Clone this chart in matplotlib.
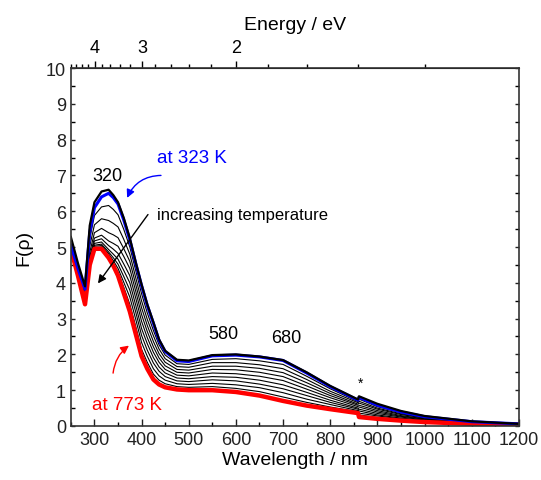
import numpy as np
import matplotlib.pyplot as plt
from matplotlib.ticker import MultipleLocator, FixedLocator

plt.rcParams['font.family'] = ['Liberation Sans', 'DejaVu Sans']

# wavelength grid (nm)
wl = [250, 265, 280, 290, 300, 315, 330, 340, 350, 362, 375, 388, 400, 412, 425, 437,
      450, 475, 500, 550, 600, 650, 700, 750, 800, 859, 861, 900, 950, 1000, 1100, 1200]

# first (room temperature) spectrum, thick black
f_rt = [5.28, 4.55, 3.90, 5.60, 6.25, 6.55, 6.60, 6.45, 6.25, 5.82, 5.25, 4.55, 3.95, 3.40, 2.90, 2.42,
        2.10, 1.85, 1.83, 1.98, 2.00, 1.94, 1.84, 1.50, 1.12, 0.74, 0.83, 0.62, 0.42, 0.28, 0.13, 0.06]
# 323 K, blue
f_323 = [5.05, 4.40, 3.82, 5.40, 6.10, 6.40, 6.50, 6.38, 6.20, 5.76, 5.20, 4.52, 3.92, 3.37, 2.87, 2.39,
         2.08, 1.82, 1.80, 1.96, 1.98, 1.93, 1.83, 1.48, 1.10, 0.72, 0.80, 0.58, 0.39, 0.26, 0.12, 0.06]
# intermediate temperatures
mid1 = [5.03, 4.36, 3.74, 5.23, 5.88, 6.12, 6.16, 6.05, 5.90, 5.50, 5.00, 4.32, 3.69, 3.16, 2.67, 2.27,
        1.98, 1.74, 1.72, 1.86, 1.88, 1.82, 1.72, 1.39, 1.04, 0.68, 0.75, 0.54, 0.37, 0.25, 0.11, 0.058]
mid2 = [5.01, 4.32, 3.64, 5.02, 5.62, 5.79, 5.74, 5.66, 5.56, 5.22, 4.80, 4.12, 3.49, 2.98, 2.52, 2.15,
        1.88, 1.66, 1.64, 1.77, 1.77, 1.71, 1.60, 1.30, 0.97, 0.65, 0.69, 0.50, 0.34, 0.23, 0.11, 0.056]
mid3 = [4.99, 4.28, 3.56, 4.85, 5.40, 5.52, 5.40, 5.34, 5.26, 4.96, 4.60, 3.93, 3.30, 2.81, 2.36, 2.02,
        1.78, 1.58, 1.56, 1.67, 1.67, 1.61, 1.49, 1.21, 0.91, 0.61, 0.64, 0.47, 0.32, 0.22, 0.10, 0.054]
mid4 = [4.98, 4.25, 3.51, 4.73, 5.25, 5.33, 5.17, 5.10, 5.02, 4.74, 4.40, 3.74, 3.11, 2.64, 2.21, 1.90,
        1.68, 1.50, 1.48, 1.58, 1.57, 1.50, 1.38, 1.12, 0.85, 0.58, 0.58, 0.43, 0.29, 0.20, 0.10, 0.052]
mid5 = [4.97, 4.24, 3.48, 4.67, 5.17, 5.23, 5.04, 4.94, 4.82, 4.53, 4.20, 3.55, 2.92, 2.47, 2.06, 1.78,
        1.58, 1.42, 1.40, 1.48, 1.46, 1.39, 1.27, 1.03, 0.79, 0.54, 0.53, 0.39, 0.27, 0.19, 0.09, 0.050]
mid6 = [4.97, 4.23, 3.45, 4.62, 5.10, 5.14, 4.93, 4.80, 4.66, 4.35, 4.00, 3.35, 2.72, 2.30, 1.91, 1.65,
        1.48, 1.34, 1.32, 1.38, 1.36, 1.28, 1.15, 0.94, 0.72, 0.50, 0.47, 0.35, 0.25, 0.17, 0.08, 0.048]
mid7 = [4.96, 4.22, 3.44, 4.58, 5.05, 5.08, 4.86, 4.70, 4.52, 4.18, 3.80, 3.16, 2.53, 2.12, 1.76, 1.53,
        1.38, 1.26, 1.24, 1.29, 1.26, 1.17, 1.04, 0.85, 0.66, 0.47, 0.42, 0.31, 0.22, 0.16, 0.08, 0.046]
mid8 = [4.96, 4.21, 3.43, 4.55, 5.02, 5.04, 4.81, 4.62, 4.40, 4.02, 3.60, 2.96, 2.33, 1.95, 1.60, 1.40,
        1.28, 1.18, 1.16, 1.19, 1.15, 1.07, 0.93, 0.75, 0.60, 0.43, 0.36, 0.28, 0.20, 0.14, 0.07, 0.044]
mid9 = [4.95, 4.21, 3.41, 4.53, 4.98, 5.00, 4.75, 4.53, 4.30, 3.88, 3.40, 2.76, 2.14, 1.78, 1.45, 1.28,
        1.18, 1.10, 1.08, 1.10, 1.05, 0.96, 0.81, 0.66, 0.53, 0.40, 0.31, 0.24, 0.17, 0.13, 0.07, 0.042]
# 773 K, red
f_773 = [4.95, 4.20, 3.40, 4.50, 4.95, 4.95, 4.70, 4.48, 4.20, 3.72, 3.20, 2.55, 1.95, 1.60, 1.30, 1.16,
         1.08, 1.02, 1.00, 1.00, 0.95, 0.85, 0.70, 0.57, 0.47, 0.36, 0.25, 0.20, 0.15, 0.11, 0.06, 0.04]

mids = [mid1, mid2, mid3, mid4, mid5, mid6, mid7, mid8, mid9]

C_EV = 1202.0  # nm*eV used for top axis

fig = plt.figure(figsize=(5.41, 4.81), dpi=100)
ax = fig.add_axes([0.131, 0.1123, 0.828, 0.7442])

for m in mids:
    ax.plot(wl, m, color='black', lw=0.8)
ax.plot(wl, f_773, color='red', lw=3.2, solid_joinstyle='round')
ax.plot(wl, f_323, color='blue', lw=2.2)
ax.plot(wl, f_rt, color='black', lw=1.6)

ax.set_xlim(250, 1200)
ax.set_ylim(0, 10)
ax.xaxis.set_major_locator(MultipleLocator(100))
ax.xaxis.set_minor_locator(MultipleLocator(50))
ax.yaxis.set_major_locator(MultipleLocator(1))
ax.yaxis.set_minor_locator(MultipleLocator(0.5))
ax.set_xticks(np.arange(300, 1201, 100))
ax.tick_params(axis='both', which='major', direction='out', length=5, width=1,
               labelsize=13, colors='#222222')
ax.tick_params(axis='both', which='minor', direction='out', length=3, width=1)
ax.tick_params(right=True, which='both', direction='in')
ax.tick_params(axis='y', which='major', right=True, length=3)
for s in ax.spines.values():
    s.set_linewidth(1.2)
    s.set_color('#333333')

ax.set_xlabel('Wavelength / nm', fontsize=14, labelpad=2)
ax.set_ylabel('F(\u03c1)', fontsize=14, labelpad=10)

sec = ax.secondary_xaxis('top', functions=(lambda x: C_EV / x, lambda e: C_EV / e))
sec.xaxis.set_major_locator(FixedLocator([4, 3, 2]))
sec.xaxis.set_minor_locator(FixedLocator([4.8, 4.6, 4.4, 4.2, 3.8, 3.6, 3.4, 3.2, 2.8, 2.6,
                                          2.4, 2.2, 1.8, 1.6, 1.4, 1.2]))
sec.tick_params(which='major', direction='out', length=5, width=1, labelsize=13)
sec.tick_params(which='minor', direction='out', length=3, width=1)
sec.set_xlabel('Energy / eV', fontsize=14, labelpad=7)
sec.xaxis.set_major_formatter(plt.FuncFormatter(lambda v, p: '%d' % round(v)))

# annotations
ax.text(328, 7.0, '320', fontsize=13, ha='center', va='center')
ax.text(573, 2.57, '580', fontsize=13, ha='center', va='center')
ax.text(706, 2.46, '680', fontsize=13, ha='center', va='center')
ax.text(865, 1.2, '*', fontsize=10, ha='center', va='center')
ax.text(432, 7.5, 'at 323 K', fontsize=13.5, color='blue', ha='left', va='center')
ax.text(432, 5.92, 'increasing temperature', fontsize=12, ha='left', va='center')
ax.text(294, 0.61, 'at 773 K', fontsize=13.5, color='red', ha='left', va='center')

ax.annotate('', xy=(367, 6.3), xytext=(447, 7.0),
            arrowprops=dict(arrowstyle='-|>', color='blue', lw=1.0,
                            connectionstyle='arc3,rad=0.35', mutation_scale=12))
ax.annotate('', xy=(304, 3.92), xytext=(417, 5.97),
            arrowprops=dict(arrowstyle='-|>', color='black', lw=1.0, mutation_scale=12))
ax.annotate('', xy=(378, 2.29), xytext=(339, 1.4),
            arrowprops=dict(arrowstyle='-|>', color='red', lw=1.0,
                            connectionstyle='arc3,rad=-0.25', mutation_scale=12))

fig.savefig('out.png', dpi=100)
